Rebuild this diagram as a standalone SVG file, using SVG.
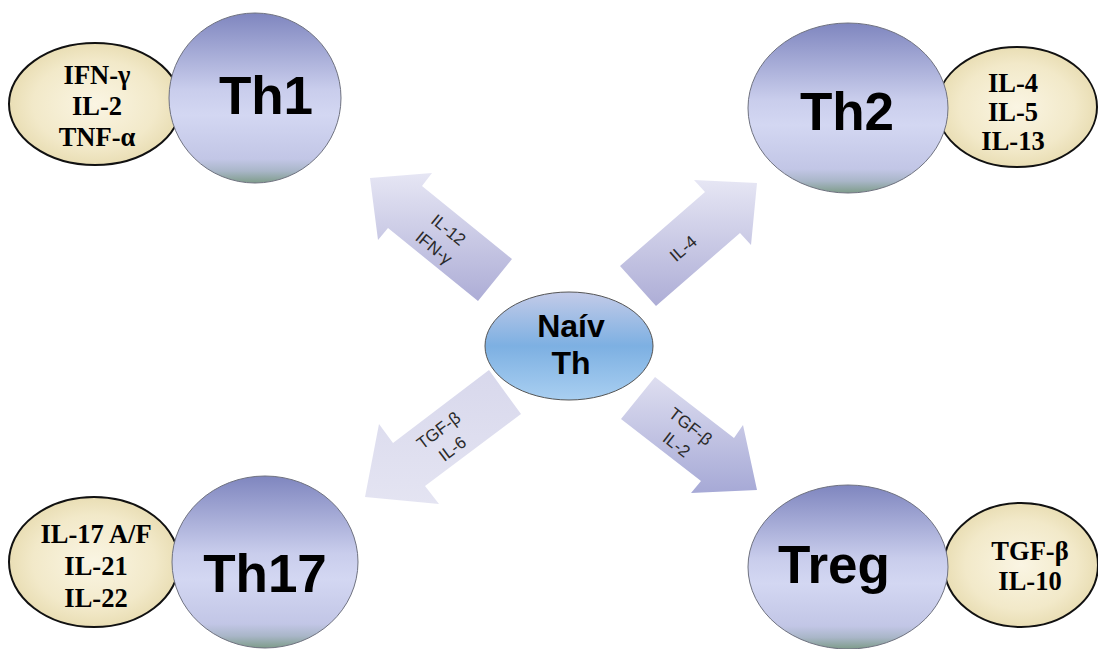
<svg xmlns="http://www.w3.org/2000/svg" width="1098" height="649" viewBox="0 0 1098 649">
<defs>
<linearGradient id="gBig" x1="0" y1="0" x2="0" y2="1">
<stop offset="0" stop-color="#7f86bf"/>
<stop offset="0.45" stop-color="#c9cdec"/>
<stop offset="0.6" stop-color="#d3d7f2"/>
<stop offset="0.86" stop-color="#c2c6e6"/>
<stop offset="0.93" stop-color="#a9b6c8"/>
<stop offset="1" stop-color="#7e9c8a"/>
</linearGradient>
<radialGradient id="gSmall" cx="0.5" cy="0.5" r="0.6">
<stop offset="0" stop-color="#faf5e3"/>
<stop offset="0.6" stop-color="#f2e9c9"/>
<stop offset="1" stop-color="#e3d6a6"/>
</radialGradient>
<linearGradient id="gNaive" x1="0" y1="0" x2="0" y2="1">
<stop offset="0" stop-color="#c3cbe8"/>
<stop offset="0.5" stop-color="#7db0e2"/>
<stop offset="1" stop-color="#a9cff1"/>
</linearGradient>
<linearGradient id="gArrUp" x1="0" y1="0" x2="0" y2="1">
<stop offset="0" stop-color="#e6e6f4"/>
<stop offset="1" stop-color="#adadd6"/>
</linearGradient>
<linearGradient id="gArrDL" x1="0" y1="0" x2="0" y2="1">
<stop offset="0" stop-color="#d8d8ec"/>
<stop offset="1" stop-color="#e4e4f2"/>
</linearGradient>
<linearGradient id="gArrDR" x1="0" y1="0" x2="0" y2="1">
<stop offset="0" stop-color="#dedef0"/>
<stop offset="1" stop-color="#a6a9d6"/>
</linearGradient>
</defs>
<style>
.big{fill:url(#gBig);stroke:#6f7280;stroke-width:1}
.small{fill:url(#gSmall);stroke:#111;stroke-width:2}
.bl{font-family:"Liberation Sans",Arial,sans-serif;font-weight:bold;font-size:53px;fill:#000;text-anchor:middle}
.cy{font-family:"Liberation Serif","Times New Roman",serif;font-weight:bold;font-size:26.5px;fill:#000;text-anchor:middle}
.al{font-family:"Liberation Sans",Arial,sans-serif;font-size:17px;fill:#2a2a2a;text-anchor:middle}
.nl{font-family:"Liberation Sans",Arial,sans-serif;font-weight:bold;font-size:32px;fill:#000;text-anchor:middle}
</style>
<rect width="1098" height="649" fill="#ffffff"/>

<g id="connectors">
<g id="arrow-th1">
<polygon points="478,301 388,228 378,240 370,178 432,173 422,186 512,259" fill="url(#gArrUp)"/>
<g transform="translate(441,239) rotate(39)">
<text class="al" x="0" y="-6">IL-12</text>
<text class="al" x="0" y="17">IFN-γ</text>
</g>
</g>
<g id="arrow-th2">
<polygon points="620,266 705,192 694,180 757,183 751,245 740,233 656,306" fill="url(#gArrUp)"/>
<text class="al" transform="translate(687,253) rotate(-41)" x="0" y="0">IL-4</text>
</g>
<g id="arrow-th17">
<polygon points="521,414 425,486 439,504 365,497 379,424 393,443 489,370" fill="url(#gArrDL)"/>
<g transform="translate(445,439) rotate(-37)">
<text class="al" x="0" y="-5">TGF-β</text>
<text class="al" x="0" y="18">IL-6</text>
</g>
</g>
<g id="arrow-treg">
<polygon points="655,377 734,438 743,425 757,490 691,493 701,481 621,419" fill="url(#gArrDR)"/>
<g transform="translate(684,435) rotate(38)">
<text class="al" x="0" y="-5">TGF-β</text>
<text class="al" x="0" y="18">IL-2</text>
</g>
</g>
</g>

<g id="th1">
<ellipse class="small" cx="95" cy="104" rx="86" ry="61"/>
<text class="cy" x="97" y="84">IFN-γ</text>
<text class="cy" x="97" y="115">IL-2</text>
<text class="cy" x="97" y="146">TNF-α</text>
<ellipse class="big" cx="255" cy="98" rx="86" ry="85"/>
<text class="bl" x="266" y="114">Th1</text>
</g>

<g id="th2">
<ellipse class="small" cx="1017" cy="107" rx="80" ry="60"/>
<text class="cy" x="1013" y="92">IL-4</text>
<text class="cy" x="1013" y="121">IL-5</text>
<text class="cy" x="1013" y="150">IL-13</text>
<ellipse class="big" cx="848" cy="108" rx="100" ry="85"/>
<text class="bl" x="847" y="130">Th2</text>
</g>

<g id="th17">
<ellipse class="small" cx="94" cy="562" rx="85" ry="65"/>
<text class="cy" x="96" y="543">IL-17 A/F</text>
<text class="cy" x="96" y="575">IL-21</text>
<text class="cy" x="96" y="607">IL-22</text>
<ellipse class="big" cx="265" cy="562" rx="93" ry="86"/>
<text class="bl" x="265" y="592">Th17</text>
</g>

<g id="treg">
<ellipse class="small" cx="1021" cy="565" rx="77" ry="62"/>
<text class="cy" x="1030" y="560">TGF-β</text>
<text class="cy" x="1030" y="590">IL-10</text>
<ellipse class="big" cx="848" cy="567" rx="100" ry="82"/>
<text class="bl" x="834" y="583">Treg</text>
</g>

<g id="naive">
<ellipse cx="569" cy="346" rx="84" ry="54" fill="url(#gNaive)" stroke="#555" stroke-width="1"/>
<text class="nl" x="571" y="337">Naív</text>
<text class="nl" x="571" y="374">Th</text>
</g>
</svg>
